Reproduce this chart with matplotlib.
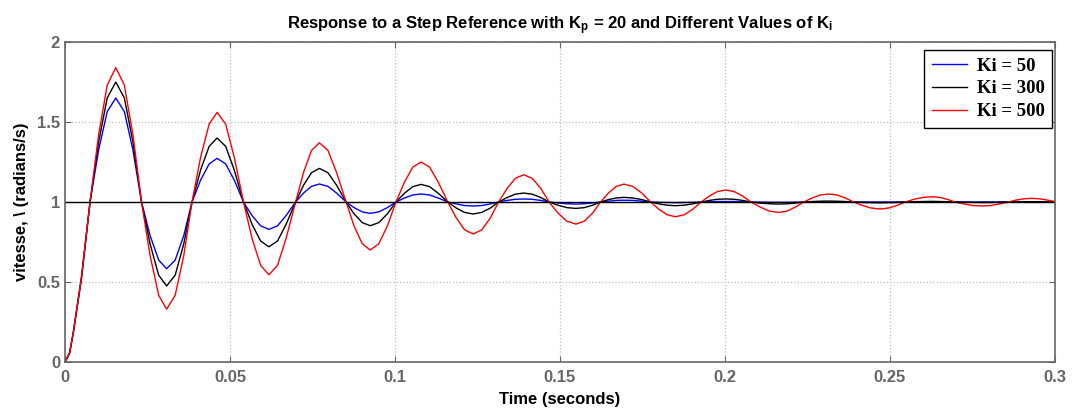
import matplotlib
matplotlib.use("Agg")
import matplotlib.pyplot as plt

# ── Data ────────────────────────────────────────
# time samples: zero crossings, shoulders and extremes of each half-cycle
t = [0, 0.0014, 0.0025, 0.005,
     0.0076, 0.0102, 0.0128, 0.0154, 0.0180, 0.0206,
     0.0232, 0.0258, 0.0284, 0.0308, 0.0334, 0.0360,
     0.0385, 0.0411, 0.0437, 0.0461, 0.0487, 0.0513,
     0.0541, 0.0567, 0.0593, 0.0618, 0.0644, 0.0670,
     0.0699, 0.0723, 0.0747, 0.0771, 0.0797, 0.0823,
     0.0852, 0.0876, 0.0901, 0.0925, 0.0951, 0.0977,
     0.1003, 0.1029, 0.1054, 0.1079, 0.1105, 0.1131,
     0.1160, 0.1186, 0.1211, 0.1237, 0.1263, 0.1289,
     0.1314, 0.1340, 0.1365, 0.1390, 0.1416, 0.1442,
     0.1467, 0.1494, 0.1521, 0.1548, 0.1574, 0.1599,
     0.1623, 0.1647, 0.1670, 0.1694, 0.1721, 0.1748,
     0.1775, 0.1800, 0.1825, 0.1850, 0.1876, 0.1902,
     0.1928, 0.1953, 0.1977, 0.2002, 0.2028, 0.2053,
     0.2079, 0.2107, 0.2135, 0.2163, 0.2188, 0.2213,
     0.2239, 0.2264, 0.2289, 0.2314, 0.2339, 0.2365,
     0.2390, 0.2417, 0.2443, 0.2470, 0.2495, 0.2521,
     0.2546, 0.2573, 0.2600, 0.2627, 0.2650, 0.2674,
     0.2697, 0.2724, 0.2751, 0.2778, 0.2805, 0.2832,
     0.2859, 0.2882, 0.2906, 0.2929, 0.2953, 0.2977,
     0.3]

y_ki50 = [0, 0.055, 0.18, 0.52,
          1.0, 1.325, 1.565, 1.65, 1.565, 1.325,
          1.0, 0.79, 0.637, 0.583, 0.637, 0.79,
          1.0, 1.137, 1.238, 1.273, 1.238, 1.137,
          1.0, 0.915, 0.851, 0.829, 0.851, 0.915,
          1.0, 1.056, 1.098, 1.1125, 1.098, 1.056,
          1.0, 0.965, 0.938, 0.929, 0.938, 0.965,
          1.0, 1.025, 1.044, 1.05, 1.044, 1.025,
          1.0, 0.988, 0.978, 0.975, 0.978, 0.988,
          1.0, 1.01, 1.017, 1.019, 1.017, 1.01,
          1.0, 0.994, 0.989, 0.9875, 0.989, 0.994,
          1.0, 1.005, 1.01, 1.011, 1.01, 1.005,
          1.0, 0.998, 0.997, 0.996, 0.997, 0.998,
          1.0, 1.002, 1.003, 1.003, 1.003, 1.002,
          1.0, 0.999, 0.998, 0.998, 0.998, 0.999,
          1.0, 1.0, 1.0, 1.0, 1.0, 1.0,
          1.0, 1.0, 1.0, 1.0, 1.0, 1.0,
          1.0, 1.0, 1.0, 1.0, 1.0, 1.0,
          1.0, 1.0, 1.0, 1.0, 1.0, 1.0,
          1.0, 1.0, 1.0, 1.0, 1.0, 1.0,
          1.0]

y_ki300 = [0, 0.055, 0.18, 0.53,
           1.0, 1.375, 1.65, 1.75, 1.65, 1.375,
           1.0, 0.738, 0.543, 0.475, 0.543, 0.738,
           1.0, 1.20, 1.348, 1.40, 1.348, 1.20,
           1.0, 0.86, 0.756, 0.72, 0.756, 0.86,
           1.0, 1.105, 1.183, 1.21, 1.183, 1.105,
           1.0, 0.926, 0.871, 0.852, 0.871, 0.926,
           1.0, 1.055, 1.096, 1.11, 1.096, 1.055,
           1.0, 0.962, 0.935, 0.925, 0.935, 0.962,
           1.0, 1.028, 1.049, 1.056, 1.049, 1.028,
           1.0, 0.98, 0.965, 0.96, 0.965, 0.98,
           1.0, 1.015, 1.025, 1.029, 1.025, 1.015,
           1.0, 0.988, 0.98, 0.977, 0.98, 0.988,
           1.0, 1.01, 1.017, 1.019, 1.017, 1.01,
           1.0, 0.993, 0.989, 0.987, 0.989, 0.993,
           1.0, 1.003, 1.005, 1.006, 1.005, 1.003,
           1.0, 0.997, 0.996, 0.995, 0.996, 0.997,
           1.0, 1.002, 1.003, 1.004, 1.003, 1.002,
           1.0, 0.998, 0.997, 0.997, 0.997, 0.998,
           1.0, 1.001, 1.002, 1.002, 1.002, 1.001,
           1.0]

y_ki500 = [0, 0.06, 0.18, 0.53,
           1.0, 1.42, 1.73, 1.84, 1.73, 1.42,
           1.0, 0.665, 0.417, 0.33, 0.417, 0.665,
           1.0, 1.28, 1.487, 1.56, 1.487, 1.28,
           1.0, 0.772, 0.604, 0.545, 0.604, 0.772,
           1.0, 1.185, 1.322, 1.37, 1.322, 1.185,
           1.0, 0.85, 0.739, 0.70, 0.739, 0.85,
           1.0, 1.125, 1.218, 1.25, 1.218, 1.125,
           1.0, 0.90, 0.826, 0.80, 0.826, 0.90,
           1.0, 1.085, 1.148, 1.17, 1.148, 1.085,
           1.0, 0.931, 0.88, 0.862, 0.88, 0.931,
           1.0, 1.056, 1.097, 1.112, 1.097, 1.056,
           1.0, 0.954, 0.92, 0.908, 0.92, 0.954,
           1.0, 1.038, 1.065, 1.075, 1.065, 1.038,
           1.0, 0.968, 0.943, 0.935, 0.943, 0.968,
           1.0, 1.025, 1.044, 1.05, 1.044, 1.025,
           1.0, 0.978, 0.962, 0.956, 0.962, 0.978,
           1.0, 1.017, 1.029, 1.033, 1.029, 1.017,
           1.0, 0.988, 0.978, 0.975, 0.978, 0.988,
           1.0, 1.012, 1.02, 1.023, 1.02, 1.012,
           1.003]

ref_t = [0, 0.3]
ref_y = [1, 1]

labels = ["Ki = 50", "Ki = 300", "Ki = 500"]
colors = ["#0000FF", "#000000", "#FF0000"]

x_ticks = [0, 0.05, 0.1, 0.15, 0.2, 0.25, 0.3]
x_tick_labels = ["0", "0.05", "0.1", "0.15", "0.2", "0.25", "0.3"]
y_ticks = [0, 0.5, 1, 1.5, 2]
y_tick_labels = ["0", "0.5", "1", "1.5", "2"]

# ── Figure ───────
plt.rcParams["font.family"] = ["Liberation Sans", "DejaVu Sans"]
plt.rcParams["font.weight"] = "bold"

fig = plt.figure(figsize=(10.72, 4.11), dpi=100, facecolor="white")
ax = fig.add_axes([0.0606, 0.1192, 0.9235, 0.7786])

for ys, lab, c in zip([y_ki50, y_ki300, y_ki500], labels, colors):
    ax.plot(t, ys, color=c, linewidth=1.0, label=lab)
ax.plot(ref_t, ref_y, color="black", linewidth=1.0)

ax.set_xlim(0, 0.3)
ax.set_ylim(0, 2)
ax.set_xticks(x_ticks)
ax.set_xticklabels(x_tick_labels)
ax.set_yticks(y_ticks)
ax.set_yticklabels(y_tick_labels)
ax.grid(True, color="#BDBDBD", linestyle=":", linewidth=0.9)

ax.tick_params(direction="in", top=True, right=True, length=4,
               colors="#666666", labelsize=12, labelcolor="#666666")
ax.tick_params(axis="x", pad=6)
for sp in ax.spines.values():
    sp.set_color("#666666")
    sp.set_linewidth(1.2)

ax.set_title(r"Response to a Step Reference with K$\mathregular{_p}$ = 20 and Different Values of K$\mathregular{_i}$",
             fontsize=12, fontweight="bold", pad=9)
ax.set_xlabel("Time (seconds)", fontsize=12, fontweight="bold", labelpad=5)
ax.set_ylabel("vitesse, \\ (radians/s)", fontsize=12, fontweight="bold", labelpad=6)

leg = ax.legend(loc="upper right", bbox_to_anchor=(0.997, 0.975), borderaxespad=0,
                fancybox=False, framealpha=1, edgecolor="black",
                handlelength=1.9, handletextpad=0.5, labelspacing=0.3,
                prop={"family": "Liberation Serif", "weight": "bold", "size": 13.5})
leg.get_frame().set_linewidth(1.0)

fig.savefig("out.png", dpi=100, facecolor="white")
